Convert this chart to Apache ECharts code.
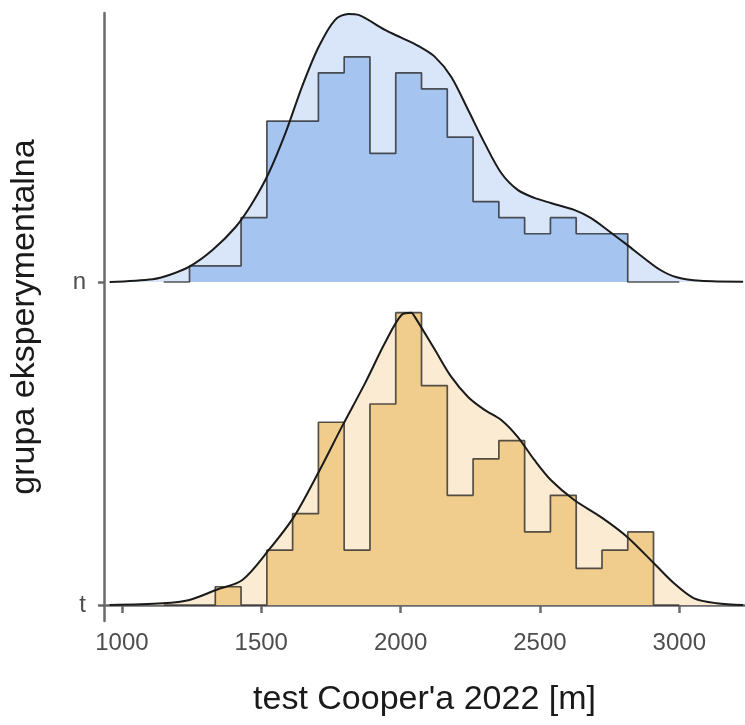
<!DOCTYPE html>
<html><head><meta charset="utf-8">
<script src="https://cdn.jsdelivr.net/npm/echarts@6/dist/echarts.min.js"></script>
<style>html,body{margin:0;padding:0;background:#fff}#c{width:745px;height:725px}</style>
</head><body><div id="c"></div>
<script>
// groups (ridge order from bottom to top)
const groups = ['t', 'n'];
const xTicks = [1000, 1500, 2000, 2500, 3000];
// histogram bins (binline, padded with empty bins)
const binStart = 1150, binWidth = 92.5;
const histT = [0,0,1,0,3,5,10,3,11,16,12,6,8,9,4,6,2,3,4,0];
const histN = [0,1,1,4,10,10,13,14,8,13,12,9,5,4,3,4,3,3,0,0];
// density curves, in 1e-4 per metre
const densXN = [956,1111,1170,1242,1325,1408,1468,1527,1587,1646,1706,1765,1813,1849,1944,2004,2063,2123,2182,2242,2301,2361,2420,2480,2539,2623,2682,2742,2813,2873,2932,2991,3075,3229];
const densYN = [0,0.16,0.40,0.88,1.84,3.16,4.54,6.26,8.56,11.21,13.51,15.06,15.40,15.34,14.48,14.02,13.56,12.93,11.78,9.89,7.99,6.26,5.29,4.83,4.54,4.14,3.68,2.99,2.13,1.38,0.69,0.27,0.07,0.02];
const densXT = [956,1146,1242,1337,1432,1527,1617,1706,1789,1873,1944,2004,2039,2051,2123,2182,2242,2301,2361,2420,2480,2539,2623,2718,2813,2908,2980,3051,3134,3229];
const densYT = [0,0.10,0.29,0.86,1.44,3.16,5.06,7.64,10.23,12.76,15.06,16.67,16.78,16.55,14.66,13.10,11.95,11.21,10.63,9.66,8.33,7.18,6.03,5.06,3.91,2.41,1.26,0.40,0.10,0];

const ridgeScale = 0.0539; // ridge units per 1e-4 density
const FONT = "'Liberation Sans', Arial, sans-serif";

function ridgeSeries(base, counts, dx, dy, light, dark) {
  const dens = dx.map((x, i) => [x, base + dy[i] * ridgeScale]);
  const total = counts.reduce((a, b) => a + b, 0);
  const hist = [[binStart, base]];
  counts.forEach((c, i) => {
    const h = base + c / (total * binWidth) * 1e4 * ridgeScale;
    hist.push([binStart + i * binWidth, h], [binStart + (i + 1) * binWidth, h]);
  });
  hist.push([binStart + counts.length * binWidth, base]);
  return [
    { type: 'line', data: dens, showSymbol: false, smooth: 0.3, silent: true,
      lineStyle: { width: 0 }, areaStyle: { color: light, opacity: 1, origin: base }, z: 1 },
    { type: 'line', data: hist, showSymbol: false, silent: true,
      lineStyle: { color: 'rgba(30,30,30,0.75)', width: 1.7 },
      areaStyle: { color: dark, opacity: 1, origin: base }, z: 2 },
    { type: 'line', data: dens, showSymbol: false, smooth: 0.3, silent: true,
      lineStyle: { color: '#1a1a1a', width: 2 }, z: 3 }
  ];
}

const axisColor = '#6a6a6a';
const option = {
  animation: false,
  grid: { left: 101, right: 0, top: 13, bottom: 104, containLabel: false },
  xAxis: {
    type: 'value', min: 935.7, max: 3235.7,
    axisLine: { show: true, lineStyle: { color: axisColor, width: 2.5 } },
    axisTick: { show: true, customValues: xTicks, length: 8, lineStyle: { color: axisColor, width: 2.5 } },
    axisLabel: { customValues: xTicks, formatter: v => String(v), fontSize: 24, color: '#4d4d4d',
      fontFamily: FONT, margin: 10 },
    splitLine: { show: false },
    name: "test Cooper'a 2022 [m]", nameLocation: 'middle', nameGap: 62,
    nameTextStyle: { fontSize: 34, color: '#1a1a1a', fontFamily: FONT }
  },
  yAxis: {
    type: 'value', min: -16 / 323, max: 1 + 269 / 323,
    axisLine: { show: true, lineStyle: { color: axisColor, width: 2.5 } },
    axisTick: { show: true, customValues: [0, 1], length: 6, lineStyle: { color: axisColor, width: 2.5 } },
    axisLabel: { customValues: [0, 1], formatter: v => groups[Math.round(v)], fontSize: 24,
      color: '#4d4d4d', fontFamily: FONT, margin: 18 },
    splitLine: { show: false },
    name: 'grupa eksperymentalna', nameLocation: 'middle', nameGap: 62, nameRotate: 90,
    nameTextStyle: { fontSize: 34, color: '#1a1a1a', fontFamily: FONT }
  },
  series: [
    ...ridgeSeries(1, histN, densXN, densYN, '#d9e5f8', '#a6c4f0'),
    ...ridgeSeries(0, histT, densXT, densYT, '#fbebd2', '#f0cd8c')
  ]
};
const chart = echarts.init(document.getElementById('c'), null, { renderer: 'canvas' });
chart.setOption(option);
</script></body></html>
